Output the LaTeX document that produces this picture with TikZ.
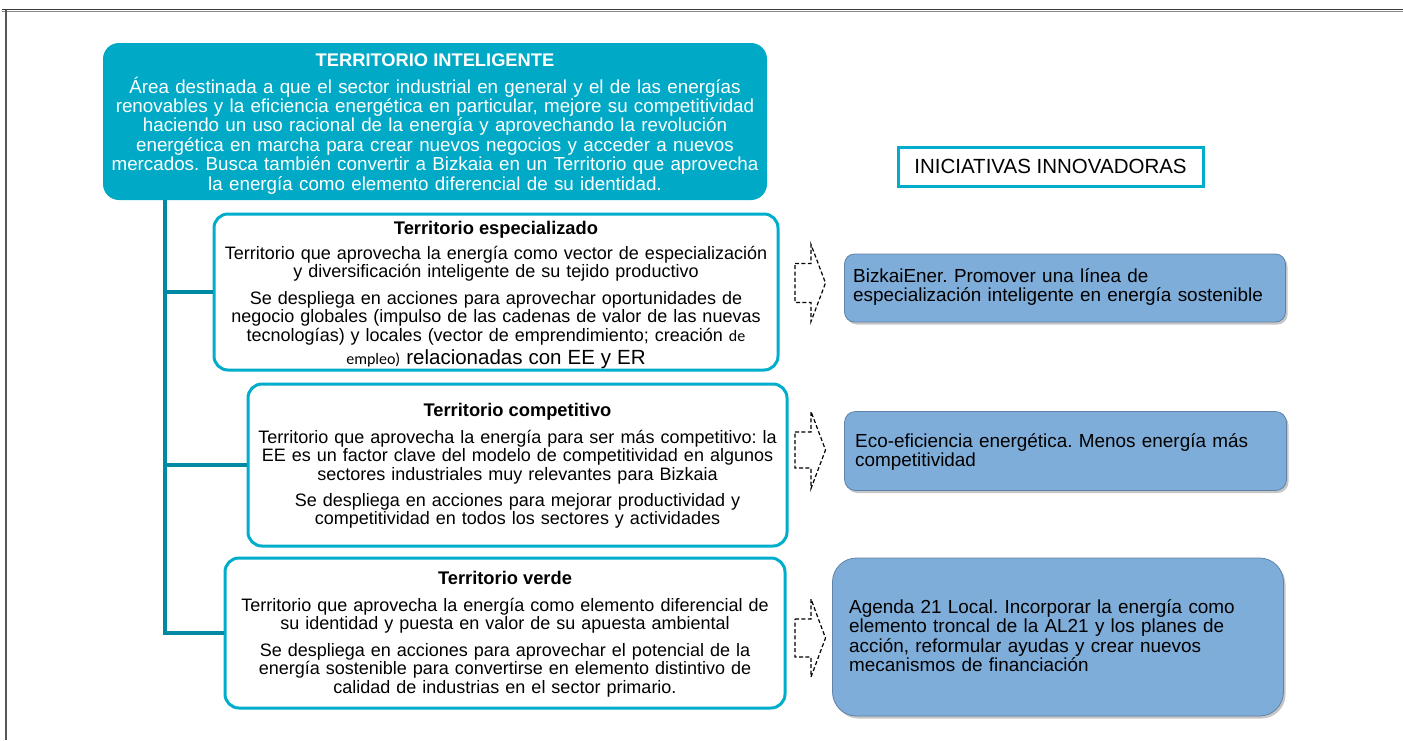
\documentclass[tikz,border=0pt]{standalone}
\usepackage{fontspec}
\setmainfont{Liberation Sans}
\newfontfamily\smallsans{Carlito}
\usetikzlibrary{shadows}
\definecolor{tealfill}{HTML}{00AAC6}
\definecolor{tealedge}{HTML}{00AECB}
\definecolor{trunk}{HTML}{0089A3}
\definecolor{boxblue}{HTML}{7FADD9}
\definecolor{boxedge}{HTML}{5F82A8}
\definecolor{framegray}{HTML}{3A3A3A}
\frenchspacing

\begin{document}
\begin{tikzpicture}[x=1pt,y=-1pt,
  areabox/.style={draw=tealedge, line width=3pt, rounded corners=14pt, fill=white,
    inner sep=0pt, minimum width=#1},
  areabox/.default=560pt,
  headtitle/.style={anchor=base, inner sep=0pt, font=\fontsize{18.3}{19}\selectfont\bfseries},
  bodytext/.style={anchor=base, align=center, text width=700pt, inner sep=0pt,
    font=\fontsize{18}{18.6}\selectfont},
  initbox/.style={draw=boxedge, line width=0.8pt, fill=boxblue, inner sep=0pt,
    drop shadow={shadow xshift=2pt, shadow yshift=-2.5pt, opacity=0.45}},
  inittext/.style={anchor=base west, align=left, text width=440pt, inner sep=0pt,
    font=\fontsize{18.9}{19.6}\selectfont},
  trunkline/.style={draw=trunk, line width=4pt},
  hintarrow/.style={draw=black, line width=1.2pt, dash pattern=on 4pt off 2.4pt},
]
\useasboundingbox (0,0) rectangle (1403,740);

% outer frame
\draw[framegray!60, line width=1.2pt] (2,11.5) -- (1403,11.5);
\draw[framegray, line width=1.8pt] (2,9.5) -- (1403,9.5);
\draw[framegray!85, line width=1.3pt] (6,10) -- (6,740);

% main area
\node[fill=tealfill, rounded corners=16pt, inner sep=0pt,
      minimum width=664pt, minimum height=157pt] (intel) at (435,121.5) {};
\node[headtitle, text=white] (inteltitle) at (435,66) {TERRITORIO INTELIGENTE};
\node[bodytext, text=white, font=\fontsize{18.8}{19.4}\selectfont] (inteltext) at (435,93)
  {Área destinada a que el sector industrial en general y el de las energías\\
   renovables y la eficiencia energética en particular, mejore su competitividad\\
   haciendo un uso racional de la energía y aprovechando la revolución\\
   energética en marcha para crear nuevos negocios y acceder a nuevos\\
   mercados. Busca también convertir a Bizkaia en un Territorio que aprovecha\\
   la energía como elemento diferencial de su identidad.};

% three sub-areas
\node[areabox=564pt, minimum height=156pt] (espec) at (496,292) {};
\node[headtitle] (espectitle) at (496,234) {Territorio especializado};
\node[bodytext] (especa) at (496,259)
  {Territorio que aprovecha la energía como vector de especialización\\
   y diversificación inteligente de su tejido productivo};
\node[bodytext] (especb) at (496,304)
  {Se despliega en acciones para aprovechar oportunidades de\\
   negocio globales (impulso de las cadenas de valor de las nuevas\\
   tecnologías) y locales (vector de emprendimiento; creación {\smallsans\fontsize{16}{16}\selectfont de}\\[5pt]
   {\smallsans\fontsize{16}{16}\selectfont empleo)} {\fontsize{20.5}{20}\selectfont relacionadas con EE y ER}};

\node[areabox=539pt, minimum height=162pt] (compet) at (517.5,465) {};
\node[headtitle] (compettitle) at (517.5,416) {Territorio competitivo};
\node[bodytext] (competa) at (517.5,443)
  {Territorio que aprovecha la energía para ser más competitivo: la\\
   EE es un factor clave del modelo de competitividad en algunos\\
   sectores industriales muy relevantes para Bizkaia};
\node[bodytext] (competb) at (517.5,506)
  {Se despliega en acciones para mejorar productividad y\\
   competitividad en todos los sectores y actividades};

\node[areabox=560pt, minimum height=150pt] (verde) at (505,633) {};
\node[headtitle] (verdetitle) at (505,584) {Territorio verde};
\node[bodytext] (verdea) at (505,611)
  {Territorio que aprovecha la energía como elemento diferencial de\\
   su identidad y puesta en valor de su apuesta ambiental};
\node[bodytext] (verdeb) at (505,656)
  {Se despliega en acciones para aprovechar el potencial de la\\
   energía sostenible para convertirse en elemento distintivo de\\
   calidad de industrias en el sector primario.};

% tree connectors
\coordinate (split) at (165,0);
\draw[trunkline] (intel.south -| split) |- (espec.west);
\draw[trunkline] (intel.south -| split) |- (compet.west);
\draw[trunkline] (intel.south -| split) |- (verde.west);

% heading of the initiatives column
\node[draw=tealedge, line width=3pt, inner sep=0pt, minimum width=305pt,
      minimum height=39pt, font=\fontsize{20.5}{21}\selectfont] (inichead) at (1050.5,166.5)
  {INICIATIVAS INNOVADORAS};

% initiatives
\node[initbox, rounded corners=10pt, minimum width=441pt, minimum height=68pt] (bizkai) at (1065,288) {};
\node[inittext] (bizkaitext) at (853,282)
  {BizkaiEner. Promover una línea de\\
   especialización inteligente en energía sostenible};

\node[initbox, rounded corners=11pt, minimum width=442pt, minimum height=79pt] (ecoef) at (1065.5,451) {};
\node[inittext] (ecoeftext) at (855,447)
  {Eco-eficiencia energética. Menos energía más\\
   competitividad};

\node[initbox, rounded corners=24pt, minimum width=451pt, minimum height=158pt] (agenda) at (1058,637) {};
\node[inittext] (agendatext) at (849,613)
  {Agenda 21 Local. Incorporar la energía como\\
   elemento troncal de la AL21 y los planes de\\
   acción, reformular ayudas y crear nuevos\\
   mecanismos de financiación};

% dashed block arrows between the columns
\foreach \name/\cy/\sh/\hh in {one/283/19.5/38.5, two/450/18/38.5, three/638/19/39}{
  \draw[hintarrow] (795,\cy-\sh) -- (811,\cy-\sh) -- (811,\cy-\hh) -- (825.5,\cy)
    -- (811,\cy+\hh) -- (811,\cy+\sh) -- (795,\cy+\sh) -- cycle;
}
\end{tikzpicture}
\end{document}
